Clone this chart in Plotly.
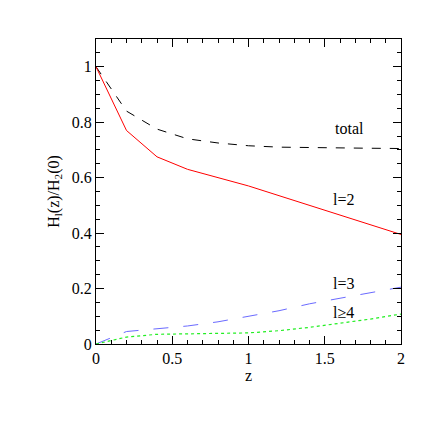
import plotly.graph_objects as go

z = [0, 0.2, 0.4, 0.6, 0.8, 1.0, 1.2, 1.4, 1.6, 1.8, 2.0]
total = [1.0, 0.84, 0.775, 0.74, 0.725, 0.715, 0.71, 0.708, 0.707, 0.706, 0.705]
l2 = [1.0, 0.77, 0.675, 0.63, 0.60, 0.57, 0.535, 0.50, 0.465, 0.43, 0.395]
l3 = [0.0, 0.045, 0.055, 0.065, 0.08, 0.10, 0.12, 0.145, 0.165, 0.185, 0.205]
l4 = [0.0, 0.025, 0.035, 0.037, 0.038, 0.04, 0.048, 0.06, 0.075, 0.09, 0.108]

fig = go.Figure()
fig.add_trace(go.Scatter(x=z, y=total, mode='lines', line=dict(color='black', dash='dash', width=1)))
fig.add_trace(go.Scatter(x=z, y=l2, mode='lines', line=dict(color='red', width=1)))
fig.add_trace(go.Scatter(x=z, y=l3, mode='lines', line=dict(color='#6a6aff', dash='longdash', width=1)))
fig.add_trace(go.Scatter(x=z, y=l4, mode='lines', line=dict(color='#22ee22', dash='dot', width=1.2)))

font = dict(family='Liberation Serif', size=16, color='black')
for x, y, t in [(1.66, 0.776, 'total'), (1.62, 0.52, 'l=2'), (1.62, 0.217, 'l=3'), (1.62, 0.115, 'l≥4')]:
    fig.add_annotation(x=x, y=y, text=t, showarrow=False, font=font)

axis = dict(showgrid=False, zeroline=False, showline=True, linecolor='black', mirror='ticks',
            ticks='inside', ticklen=8, tickcolor='black',
            minor=dict(ticks='inside', ticklen=4, tickcolor='black'),
            tickfont=font)
fig.update_xaxes(axis, range=[0, 2], dtick=0.5, minor_dtick=0.1,
                 title=dict(text='z', font=font, standoff=2))
fig.update_yaxes(axis, range=[0, 1.1], dtick=0.2, minor_dtick=0.05,
                 title=dict(text='H<sub>l</sub>(z)/H<sub>2</sub>(0)', font=font, standoff=8))
fig.update_layout(width=436, height=436, showlegend=False, plot_bgcolor='white', paper_bgcolor='white',
                  margin=dict(l=88, r=43, t=31, b=100))
fig.write_html("out.html")
